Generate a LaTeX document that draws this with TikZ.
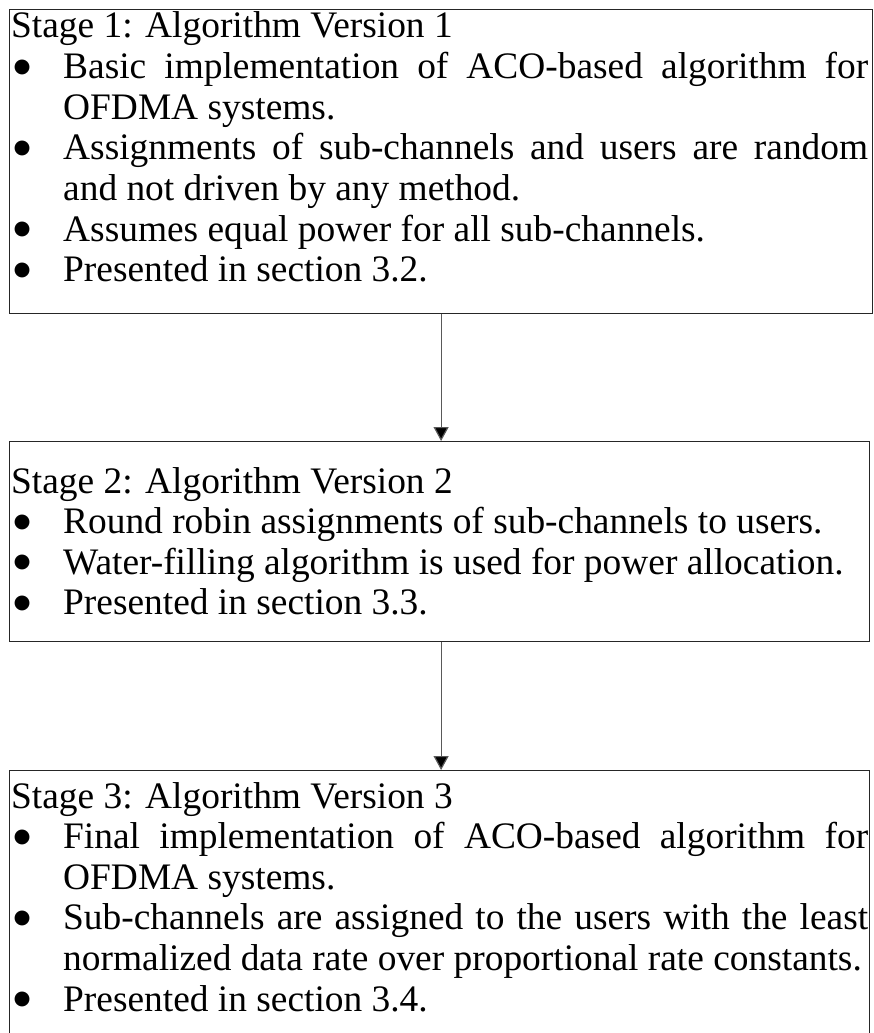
\documentclass[tikz,border=0pt]{standalone}
\usepackage{fontspec}
\setmainfont{Liberation Serif}
\newfontfamily\symfont{DejaVu Sans}
\usetikzlibrary{arrows.meta}
\newlength{\bind}\setlength{\bind}{52pt}
\newcommand{\bmark}{\raisebox{6.5pt}{\symfont\fontsize{19.5}{19.5}\selectfont ●}}
\newcommand{\bitem}[1]{\par\noindent\hangindent=\bind\hangafter=1\makebox[\bind][l]{\hspace{11pt}\makebox[0pt][c]{\bmark}}#1}
\newcommand{\boxtext}[1]{\parbox[t]{857pt}{\fontsize{37.4}{40.6}\selectfont\parindent=0pt\parskip=0pt #1}}
\tikzset{
  stagebox/.style={draw=black!85, line width=1.2pt, anchor=north west, inner sep=0pt},
  stagetext/.style={anchor=base west, inner sep=0pt, font=\fontsize{37.4}{40.6}\selectfont},
  flow/.style={draw=black!65, line width=1.2pt, -{Triangle[length=14pt,width=15pt,fill=black]}}
}
\begin{document}
\begin{tikzpicture}[x=1pt,y=-1pt]
\useasboundingbox (0,0) rectangle (874,1033);
\fill[white] (0,0) rectangle (874,1033);
% boxes
\node[stagebox, minimum width=863pt, minimum height=304pt] (box1) at (9,9) {};
\node[stagebox, minimum width=860pt, minimum height=200pt] (box2) at (9,441) {};
\node[stagebox, minimum width=860pt, minimum height=280pt] (box3) at (9,770) {};
% texts
\node[stagetext] (t1) at (11,38) {\boxtext{%
Stage 1: Algorithm Version 1
\bitem{Basic implementation of ACO-based algorithm for\linebreak OFDMA systems.}
\bitem{Assignments of sub-channels and users are random\linebreak and not driven by any method.}
\bitem{Assumes equal power for all sub-channels.}
\bitem{Presented in section 3.2.}}};
\node[stagetext] (t2) at (11,493) {\boxtext{%
Stage 2: Algorithm Version 2
\bitem{Round robin assignments of sub-channels to users.}
\bitem{Water-filling algorithm is used for power allocation.}
\bitem{Presented in section 3.3.}}};
\node[stagetext] (t3) at (11,808) {\boxtext{%
Stage 3: Algorithm Version 3
\bitem{Final implementation of ACO-based algorithm for\linebreak OFDMA systems.}
\bitem{Sub-channels are assigned to the users with the least\linebreak normalized data rate over proportional rate constants.}
\bitem{Presented in section 3.4.}}};
% connectors
\draw[flow] (box1.south) -- (box1.south |- box2.north);
\draw[flow] (box1.south |- box2.south) -- (box1.south |- box3.north);
\end{tikzpicture}
\end{document}
